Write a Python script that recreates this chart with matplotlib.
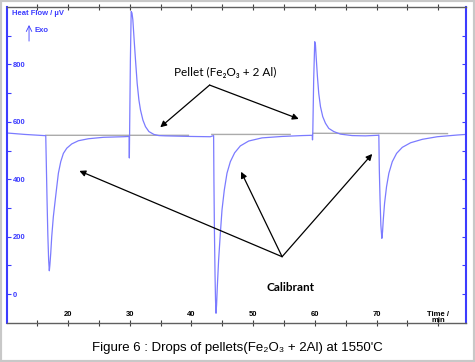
import matplotlib
matplotlib.use('Agg')
import matplotlib.pyplot as plt
import numpy as np
from matplotlib.patches import Rectangle

# ---- data (time in min, heat flow in uV) ----
time = [10.1, 13.0, 16.1,
        # calibrant 1
        16.38, 16.46, 16.59, 16.72, 16.85, 16.96, 17.05, 17.19, 17.35, 17.61, 17.89, 18.17, 18.43, 18.81,
        19.24, 19.79, 20.6, 21.67, 23.3, 25.73, 28.98, 29.9,
        # pellet 1
        29.93, 29.97, 30.1, 30.23, 30.36, 30.5, 30.71, 30.93, 31.2, 31.48, 31.74, 32.13, 32.55, 33.1,
        33.91, 34.72, 35.8, 39.8, 43.05,
        # calibrant 2
        43.59, 43.64, 43.72, 43.82, 43.9, 43.98, 44.07, 44.19, 44.4, 44.68, 44.95, 45.32, 45.76, 46.3,
        47.0, 47.92, 49.27, 51.44, 54.69, 57.94, 59.58,
        # pellet 2
        59.62, 59.66, 59.81, 59.98, 60.1, 60.21, 60.42, 60.63, 60.91, 61.28, 61.72, 62.26, 63.07, 64.16,
        66.05, 68.2, 70.2,
        # calibrant 3
        70.37, 70.45, 70.57, 70.7, 70.86, 70.97, 71.09, 71.3, 71.62, 72.0, 72.55, 73.25, 74.17, 75.52,
        77.42, 79.85, 83.1, 84.45]
heat_flow = [561, 556, 552,
             552, 467, 328, 206, 118, 81, 101, 142, 200, 269, 322, 374, 421, 461,
             490, 508, 523, 534, 541, 546, 548, 549,
             474, 554, 815, 984, 979, 955, 885, 815, 734, 676, 641, 606, 583, 566,
             556, 552, 551, 549, 548,
             552, 397, 223, 66, -21, -67, -38, 25, 118, 211, 293, 362, 421, 461,
             492, 516, 533, 544, 549, 552, 553,
             537, 554, 746, 879, 868, 827, 757, 699, 653, 618, 595, 577, 566, 557,
             552, 551, 553,
             554, 432, 328, 240, 194, 216, 258, 316, 374, 421, 461, 490, 511, 527,
             539, 548, 554, 556]

# grey reference line (segments separated by NaN)
ref_time = [16.4, 39.5, np.nan, 43.3, 56.0, np.nan, 59.7, 81.5]
ref_flow = [553, 553, np.nan, 556, 556, np.nan, 560, 559]

xticks = [15, 20, 25, 30, 35, 40, 45, 50, 55, 60, 65, 70, 75, 80]
xtick_labels = ['', '20', '', '30', '', '40', '', '50', '', '60', '', '70', '', 'Time /\nmin']
yticks = [0, 100, 200, 300, 400, 500, 600, 700, 800, 900]
ytick_labels = ['0', '', '200', '', '400', '', '600', '', '800', '']

blue = '#3c3cff'
curve_blue = '#7b7bff'

fig = plt.figure(figsize=(4.75, 3.62), dpi=100)
ax = fig.add_axes([7/475, 1 - 323/362, 459/475, 316/362])

ax.plot(ref_time, ref_flow, color='#ababab', lw=1.0)
ax.plot(time, heat_flow, color=curve_blue, lw=0.9)

ax.set_xlim(10.1, 84.5)
ax.set_ylim(-101, 1000)

ax.set_xticks(xticks)
ax.set_xticklabels(xtick_labels)
ax.set_yticks(yticks)
ax.set_yticklabels(ytick_labels)

ax.tick_params(axis='x', direction='inout', length=5, width=0.8, color='#404040',
               top=True, pad=-11.5, labelsize=5.5)
ax.tick_params(axis='y', direction='in', length=3, width=0.8, color=blue,
               right=True, pad=-4, labelsize=5.5, labelcolor=blue)
for lab in ax.get_xticklabels():
    lab.set_fontweight('bold')
    lab.set_family('Liberation Sans')
for lab in ax.get_yticklabels():
    lab.set_fontweight('bold')
    lab.set_family('Liberation Sans')
    lab.set_horizontalalignment('left')
ax.get_xticklabels()[-1].set_linespacing(0.9)

for s in ['left', 'right']:
    ax.spines[s].set_color(blue)
    ax.spines[s].set_linewidth(1.5)
for s in ['top', 'bottom']:
    ax.spines[s].set_color('#606060')
    ax.spines[s].set_linewidth(1)

ax.text(0.011, 0.978, 'Heat Flow / \u00b5V', transform=ax.transAxes, color=blue,
        fontsize=5.5, fontweight='bold', family='Liberation Sans', va='center')
ax.annotate('', xy=(0.048, 0.943), xytext=(0.048, 0.892), xycoords='axes fraction',
            arrowprops=dict(arrowstyle='->', color=blue, lw=0.6, shrinkA=0, shrinkB=0))
ax.text(0.061, 0.927, 'Exo', transform=ax.transAxes, color=blue,
        fontsize=5.5, fontweight='bold', family='Liberation Sans', va='center')

# annotations
arrow = dict(arrowstyle='-|>', color='black', lw=0.9, shrinkA=0, shrinkB=0,
             mutation_scale=9)
for tip in [(34.94, 581), (57.39, 610)]:
    ax.annotate('', xy=tip, xytext=(42.94, 728), arrowprops=arrow)
ax.text(45.5, 773, 'Pellet (Fe\u2082O\u2083 + 2 Al)', ha='center', va='center',
        fontsize=8.5, family=['Lato', 'DejaVu Sans'])

for tip in [(21.83, 429), (48.04, 426), (69.3, 488)]:
    ax.annotate('', xy=tip, xytext=(54.69, 130), arrowprops=arrow)
ax.text(56.1, 24, 'Calibrant', ha='center', va='center', fontsize=8.5,
        fontweight='bold', family=['Lato', 'DejaVu Sans'])

fig.text(0.5, 1 - 348/362, 'Figure 6 : Drops of pellets(Fe\u2082O\u2083 + 2Al) at 1550\'C',
         ha='center', va='center', fontsize=9.5, family=['Liberation Sans', 'DejaVu Sans'])

fig.patches.append(Rectangle((0, 0), 1, 1, transform=fig.transFigure, fill=False,
                             edgecolor='#c8c8c8', lw=3))

fig.savefig('out.png', dpi=100)
